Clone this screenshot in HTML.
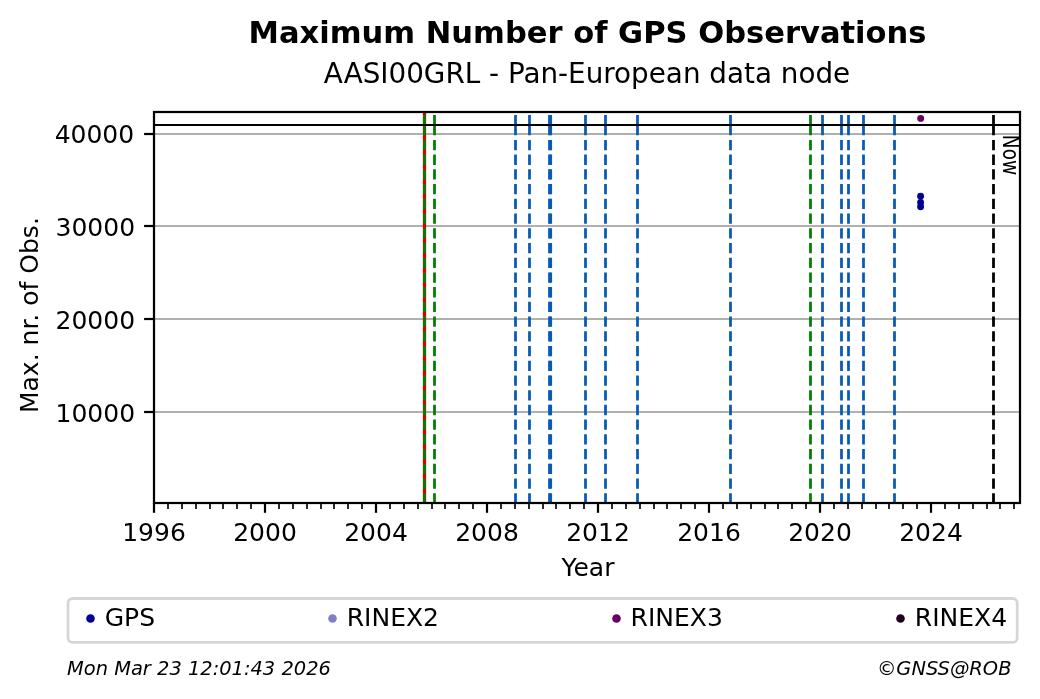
<!DOCTYPE html>
<html lang="en"><head><meta charset="utf-8"><title>Maximum Number of GPS Observations</title>
<style>html,body{margin:0;padding:0;background:#fff}body{width:1040px;height:699px;overflow:hidden}svg{display:block}text{font-family:"DejaVu Sans", "Liberation Sans", sans-serif;fill:#000}</style>
</head><body>
<svg width="1040" height="699" viewBox="0 0 1040 699">
<rect x="0" y="0" width="1040" height="699" fill="#ffffff"/>
<g id="grid" stroke="#b0b0b0" stroke-width="2.22">
<line x1="154" y1="134" x2="1020" y2="134"/>
<line x1="154" y1="226" x2="1020" y2="226"/>
<line x1="154" y1="319" x2="1020" y2="319"/>
<line x1="154" y1="412" x2="1020" y2="412"/>
</g>
<line x1="424.5" y1="112" x2="424.5" y2="503" stroke="#da0000" stroke-width="3.3"/>
<path d="M424.50 115.00V135.30 M424.50 139.90V150.18 M424.50 154.62V164.90 M424.50 169.34V179.62 M424.50 184.06V194.34 M424.50 198.78V209.06 M424.50 213.50V223.78 M424.50 228.22V238.50 M424.50 242.94V253.22 M424.50 257.66V267.94 M424.50 272.38V282.66 M424.50 287.10V297.38 M424.50 301.82V312.10 M424.50 316.54V326.82 M424.50 331.26V341.54 M424.50 345.98V356.26 M424.50 360.70V370.98 M424.50 375.42V385.70 M424.50 390.14V400.42 M424.50 404.86V415.14 M424.50 419.58V429.86 M424.50 434.30V444.58 M424.50 449.02V459.30 M424.50 463.74V474.02 M424.50 478.46V488.74 M424.50 493.18V503.00" stroke="#008000" stroke-width="2.78" fill="none"/>
<path d="M434.50 115.00V135.30 M434.50 139.90V150.18 M434.50 154.62V164.90 M434.50 169.34V179.62 M434.50 184.06V194.34 M434.50 198.78V209.06 M434.50 213.50V223.78 M434.50 228.22V238.50 M434.50 242.94V253.22 M434.50 257.66V267.94 M434.50 272.38V282.66 M434.50 287.10V297.38 M434.50 301.82V312.10 M434.50 316.54V326.82 M434.50 331.26V341.54 M434.50 345.98V356.26 M434.50 360.70V370.98 M434.50 375.42V385.70 M434.50 390.14V400.42 M434.50 404.86V415.14 M434.50 419.58V429.86 M434.50 434.30V444.58 M434.50 449.02V459.30 M434.50 463.74V474.02 M434.50 478.46V488.74 M434.50 493.18V503.00" stroke="#008000" stroke-width="2.78" fill="none"/>
<path d="M515.50 115.00V135.30 M515.50 139.90V150.18 M515.50 154.62V164.90 M515.50 169.34V179.62 M515.50 184.06V194.34 M515.50 198.78V209.06 M515.50 213.50V223.78 M515.50 228.22V238.50 M515.50 242.94V253.22 M515.50 257.66V267.94 M515.50 272.38V282.66 M515.50 287.10V297.38 M515.50 301.82V312.10 M515.50 316.54V326.82 M515.50 331.26V341.54 M515.50 345.98V356.26 M515.50 360.70V370.98 M515.50 375.42V385.70 M515.50 390.14V400.42 M515.50 404.86V415.14 M515.50 419.58V429.86 M515.50 434.30V444.58 M515.50 449.02V459.30 M515.50 463.74V474.02 M515.50 478.46V488.74 M515.50 493.18V503.00" stroke="#075bb6" stroke-width="2.78" fill="none"/>
<path d="M529.50 115.00V135.30 M529.50 139.90V150.18 M529.50 154.62V164.90 M529.50 169.34V179.62 M529.50 184.06V194.34 M529.50 198.78V209.06 M529.50 213.50V223.78 M529.50 228.22V238.50 M529.50 242.94V253.22 M529.50 257.66V267.94 M529.50 272.38V282.66 M529.50 287.10V297.38 M529.50 301.82V312.10 M529.50 316.54V326.82 M529.50 331.26V341.54 M529.50 345.98V356.26 M529.50 360.70V370.98 M529.50 375.42V385.70 M529.50 390.14V400.42 M529.50 404.86V415.14 M529.50 419.58V429.86 M529.50 434.30V444.58 M529.50 449.02V459.30 M529.50 463.74V474.02 M529.50 478.46V488.74 M529.50 493.18V503.00" stroke="#075bb6" stroke-width="2.78" fill="none"/>
<path d="M549.50 115.00V135.30 M549.50 139.90V150.18 M549.50 154.62V164.90 M549.50 169.34V179.62 M549.50 184.06V194.34 M549.50 198.78V209.06 M549.50 213.50V223.78 M549.50 228.22V238.50 M549.50 242.94V253.22 M549.50 257.66V267.94 M549.50 272.38V282.66 M549.50 287.10V297.38 M549.50 301.82V312.10 M549.50 316.54V326.82 M549.50 331.26V341.54 M549.50 345.98V356.26 M549.50 360.70V370.98 M549.50 375.42V385.70 M549.50 390.14V400.42 M549.50 404.86V415.14 M549.50 419.58V429.86 M549.50 434.30V444.58 M549.50 449.02V459.30 M549.50 463.74V474.02 M549.50 478.46V488.74 M549.50 493.18V503.00" stroke="#075bb6" stroke-width="2.78" fill="none"/>
<path d="M550.70 115.00V135.30 M550.70 139.90V150.18 M550.70 154.62V164.90 M550.70 169.34V179.62 M550.70 184.06V194.34 M550.70 198.78V209.06 M550.70 213.50V223.78 M550.70 228.22V238.50 M550.70 242.94V253.22 M550.70 257.66V267.94 M550.70 272.38V282.66 M550.70 287.10V297.38 M550.70 301.82V312.10 M550.70 316.54V326.82 M550.70 331.26V341.54 M550.70 345.98V356.26 M550.70 360.70V370.98 M550.70 375.42V385.70 M550.70 390.14V400.42 M550.70 404.86V415.14 M550.70 419.58V429.86 M550.70 434.30V444.58 M550.70 449.02V459.30 M550.70 463.74V474.02 M550.70 478.46V488.74 M550.70 493.18V503.00" stroke="#075bb6" stroke-width="2.78" fill="none"/>
<path d="M585.50 115.00V135.30 M585.50 139.90V150.18 M585.50 154.62V164.90 M585.50 169.34V179.62 M585.50 184.06V194.34 M585.50 198.78V209.06 M585.50 213.50V223.78 M585.50 228.22V238.50 M585.50 242.94V253.22 M585.50 257.66V267.94 M585.50 272.38V282.66 M585.50 287.10V297.38 M585.50 301.82V312.10 M585.50 316.54V326.82 M585.50 331.26V341.54 M585.50 345.98V356.26 M585.50 360.70V370.98 M585.50 375.42V385.70 M585.50 390.14V400.42 M585.50 404.86V415.14 M585.50 419.58V429.86 M585.50 434.30V444.58 M585.50 449.02V459.30 M585.50 463.74V474.02 M585.50 478.46V488.74 M585.50 493.18V503.00" stroke="#075bb6" stroke-width="2.78" fill="none"/>
<path d="M605.50 115.00V135.30 M605.50 139.90V150.18 M605.50 154.62V164.90 M605.50 169.34V179.62 M605.50 184.06V194.34 M605.50 198.78V209.06 M605.50 213.50V223.78 M605.50 228.22V238.50 M605.50 242.94V253.22 M605.50 257.66V267.94 M605.50 272.38V282.66 M605.50 287.10V297.38 M605.50 301.82V312.10 M605.50 316.54V326.82 M605.50 331.26V341.54 M605.50 345.98V356.26 M605.50 360.70V370.98 M605.50 375.42V385.70 M605.50 390.14V400.42 M605.50 404.86V415.14 M605.50 419.58V429.86 M605.50 434.30V444.58 M605.50 449.02V459.30 M605.50 463.74V474.02 M605.50 478.46V488.74 M605.50 493.18V503.00" stroke="#075bb6" stroke-width="2.78" fill="none"/>
<path d="M637.50 115.00V135.30 M637.50 139.90V150.18 M637.50 154.62V164.90 M637.50 169.34V179.62 M637.50 184.06V194.34 M637.50 198.78V209.06 M637.50 213.50V223.78 M637.50 228.22V238.50 M637.50 242.94V253.22 M637.50 257.66V267.94 M637.50 272.38V282.66 M637.50 287.10V297.38 M637.50 301.82V312.10 M637.50 316.54V326.82 M637.50 331.26V341.54 M637.50 345.98V356.26 M637.50 360.70V370.98 M637.50 375.42V385.70 M637.50 390.14V400.42 M637.50 404.86V415.14 M637.50 419.58V429.86 M637.50 434.30V444.58 M637.50 449.02V459.30 M637.50 463.74V474.02 M637.50 478.46V488.74 M637.50 493.18V503.00" stroke="#075bb6" stroke-width="2.78" fill="none"/>
<path d="M730.50 115.00V135.30 M730.50 139.90V150.18 M730.50 154.62V164.90 M730.50 169.34V179.62 M730.50 184.06V194.34 M730.50 198.78V209.06 M730.50 213.50V223.78 M730.50 228.22V238.50 M730.50 242.94V253.22 M730.50 257.66V267.94 M730.50 272.38V282.66 M730.50 287.10V297.38 M730.50 301.82V312.10 M730.50 316.54V326.82 M730.50 331.26V341.54 M730.50 345.98V356.26 M730.50 360.70V370.98 M730.50 375.42V385.70 M730.50 390.14V400.42 M730.50 404.86V415.14 M730.50 419.58V429.86 M730.50 434.30V444.58 M730.50 449.02V459.30 M730.50 463.74V474.02 M730.50 478.46V488.74 M730.50 493.18V503.00" stroke="#075bb6" stroke-width="2.78" fill="none"/>
<path d="M810.50 115.00V135.30 M810.50 139.90V150.18 M810.50 154.62V164.90 M810.50 169.34V179.62 M810.50 184.06V194.34 M810.50 198.78V209.06 M810.50 213.50V223.78 M810.50 228.22V238.50 M810.50 242.94V253.22 M810.50 257.66V267.94 M810.50 272.38V282.66 M810.50 287.10V297.38 M810.50 301.82V312.10 M810.50 316.54V326.82 M810.50 331.26V341.54 M810.50 345.98V356.26 M810.50 360.70V370.98 M810.50 375.42V385.70 M810.50 390.14V400.42 M810.50 404.86V415.14 M810.50 419.58V429.86 M810.50 434.30V444.58 M810.50 449.02V459.30 M810.50 463.74V474.02 M810.50 478.46V488.74 M810.50 493.18V503.00" stroke="#008000" stroke-width="2.78" fill="none"/>
<path d="M822.50 115.00V135.30 M822.50 139.90V150.18 M822.50 154.62V164.90 M822.50 169.34V179.62 M822.50 184.06V194.34 M822.50 198.78V209.06 M822.50 213.50V223.78 M822.50 228.22V238.50 M822.50 242.94V253.22 M822.50 257.66V267.94 M822.50 272.38V282.66 M822.50 287.10V297.38 M822.50 301.82V312.10 M822.50 316.54V326.82 M822.50 331.26V341.54 M822.50 345.98V356.26 M822.50 360.70V370.98 M822.50 375.42V385.70 M822.50 390.14V400.42 M822.50 404.86V415.14 M822.50 419.58V429.86 M822.50 434.30V444.58 M822.50 449.02V459.30 M822.50 463.74V474.02 M822.50 478.46V488.74 M822.50 493.18V503.00" stroke="#075bb6" stroke-width="2.78" fill="none"/>
<path d="M841.50 115.00V135.30 M841.50 139.90V150.18 M841.50 154.62V164.90 M841.50 169.34V179.62 M841.50 184.06V194.34 M841.50 198.78V209.06 M841.50 213.50V223.78 M841.50 228.22V238.50 M841.50 242.94V253.22 M841.50 257.66V267.94 M841.50 272.38V282.66 M841.50 287.10V297.38 M841.50 301.82V312.10 M841.50 316.54V326.82 M841.50 331.26V341.54 M841.50 345.98V356.26 M841.50 360.70V370.98 M841.50 375.42V385.70 M841.50 390.14V400.42 M841.50 404.86V415.14 M841.50 419.58V429.86 M841.50 434.30V444.58 M841.50 449.02V459.30 M841.50 463.74V474.02 M841.50 478.46V488.74 M841.50 493.18V503.00" stroke="#075bb6" stroke-width="2.78" fill="none"/>
<path d="M848.50 115.00V135.30 M848.50 139.90V150.18 M848.50 154.62V164.90 M848.50 169.34V179.62 M848.50 184.06V194.34 M848.50 198.78V209.06 M848.50 213.50V223.78 M848.50 228.22V238.50 M848.50 242.94V253.22 M848.50 257.66V267.94 M848.50 272.38V282.66 M848.50 287.10V297.38 M848.50 301.82V312.10 M848.50 316.54V326.82 M848.50 331.26V341.54 M848.50 345.98V356.26 M848.50 360.70V370.98 M848.50 375.42V385.70 M848.50 390.14V400.42 M848.50 404.86V415.14 M848.50 419.58V429.86 M848.50 434.30V444.58 M848.50 449.02V459.30 M848.50 463.74V474.02 M848.50 478.46V488.74 M848.50 493.18V503.00" stroke="#075bb6" stroke-width="2.78" fill="none"/>
<path d="M863.50 115.00V135.30 M863.50 139.90V150.18 M863.50 154.62V164.90 M863.50 169.34V179.62 M863.50 184.06V194.34 M863.50 198.78V209.06 M863.50 213.50V223.78 M863.50 228.22V238.50 M863.50 242.94V253.22 M863.50 257.66V267.94 M863.50 272.38V282.66 M863.50 287.10V297.38 M863.50 301.82V312.10 M863.50 316.54V326.82 M863.50 331.26V341.54 M863.50 345.98V356.26 M863.50 360.70V370.98 M863.50 375.42V385.70 M863.50 390.14V400.42 M863.50 404.86V415.14 M863.50 419.58V429.86 M863.50 434.30V444.58 M863.50 449.02V459.30 M863.50 463.74V474.02 M863.50 478.46V488.74 M863.50 493.18V503.00" stroke="#075bb6" stroke-width="2.78" fill="none"/>
<path d="M894.50 115.00V135.30 M894.50 139.90V150.18 M894.50 154.62V164.90 M894.50 169.34V179.62 M894.50 184.06V194.34 M894.50 198.78V209.06 M894.50 213.50V223.78 M894.50 228.22V238.50 M894.50 242.94V253.22 M894.50 257.66V267.94 M894.50 272.38V282.66 M894.50 287.10V297.38 M894.50 301.82V312.10 M894.50 316.54V326.82 M894.50 331.26V341.54 M894.50 345.98V356.26 M894.50 360.70V370.98 M894.50 375.42V385.70 M894.50 390.14V400.42 M894.50 404.86V415.14 M894.50 419.58V429.86 M894.50 434.30V444.58 M894.50 449.02V459.30 M894.50 463.74V474.02 M894.50 478.46V488.74 M894.50 493.18V503.00" stroke="#075bb6" stroke-width="2.78" fill="none"/>
<path d="M993.50 115.00V135.30 M993.50 139.90V150.18 M993.50 154.62V164.90 M993.50 169.34V179.62 M993.50 184.06V194.34 M993.50 198.78V209.06 M993.50 213.50V223.78 M993.50 228.22V238.50 M993.50 242.94V253.22 M993.50 257.66V267.94 M993.50 272.38V282.66 M993.50 287.10V297.38 M993.50 301.82V312.10 M993.50 316.54V326.82 M993.50 331.26V341.54 M993.50 345.98V356.26 M993.50 360.70V370.98 M993.50 375.42V385.70 M993.50 390.14V400.42 M993.50 404.86V415.14 M993.50 419.58V429.86 M993.50 434.30V444.58 M993.50 449.02V459.30 M993.50 463.74V474.02 M993.50 478.46V488.74 M993.50 493.18V503.00" stroke="#000000" stroke-width="2.78" fill="none"/>
<line x1="154" y1="125" x2="1021" y2="125" stroke="#000" stroke-width="2.22"/>
<circle cx="920.7" cy="118.4" r="3.45" fill="#660066"/>
<circle cx="920.6" cy="196.2" r="3.45" fill="#000094"/>
<circle cx="920.6" cy="202.4" r="3.45" fill="#000094"/>
<circle cx="920.6" cy="206.7" r="3.45" fill="#000094"/>
<rect x="154" y="112" width="866" height="391" fill="none" stroke="#000" stroke-width="2.22"/>
<g id="yticks" stroke="#000" stroke-width="2.22">
<line x1="144.1" y1="134" x2="154" y2="134"/>
<line x1="144.1" y1="226" x2="154" y2="226"/>
<line x1="144.1" y1="319" x2="154" y2="319"/>
<line x1="144.1" y1="412" x2="154" y2="412"/>
</g>
<g id="xmajor" stroke="#000" stroke-width="2.22">
<line x1="154" y1="503" x2="154" y2="512.8"/>
<line x1="265" y1="503" x2="265" y2="512.8"/>
<line x1="376" y1="503" x2="376" y2="512.8"/>
<line x1="487" y1="503" x2="487" y2="512.8"/>
<line x1="598" y1="503" x2="598" y2="512.8"/>
<line x1="709" y1="503" x2="709" y2="512.8"/>
<line x1="820" y1="503" x2="820" y2="512.8"/>
<line x1="931" y1="503" x2="931" y2="512.8"/>
</g>
<g id="xminor" stroke="#000" stroke-width="1.67">
<line x1="168" y1="503" x2="168" y2="508.9"/>
<line x1="182" y1="503" x2="182" y2="508.9"/>
<line x1="196" y1="503" x2="196" y2="508.9"/>
<line x1="210" y1="503" x2="210" y2="508.9"/>
<line x1="223" y1="503" x2="223" y2="508.9"/>
<line x1="237" y1="503" x2="237" y2="508.9"/>
<line x1="251" y1="503" x2="251" y2="508.9"/>
<line x1="279" y1="503" x2="279" y2="508.9"/>
<line x1="293" y1="503" x2="293" y2="508.9"/>
<line x1="307" y1="503" x2="307" y2="508.9"/>
<line x1="321" y1="503" x2="321" y2="508.9"/>
<line x1="334" y1="503" x2="334" y2="508.9"/>
<line x1="348" y1="503" x2="348" y2="508.9"/>
<line x1="362" y1="503" x2="362" y2="508.9"/>
<line x1="390" y1="503" x2="390" y2="508.9"/>
<line x1="404" y1="503" x2="404" y2="508.9"/>
<line x1="418" y1="503" x2="418" y2="508.9"/>
<line x1="432" y1="503" x2="432" y2="508.9"/>
<line x1="445" y1="503" x2="445" y2="508.9"/>
<line x1="459" y1="503" x2="459" y2="508.9"/>
<line x1="473" y1="503" x2="473" y2="508.9"/>
<line x1="501" y1="503" x2="501" y2="508.9"/>
<line x1="515" y1="503" x2="515" y2="508.9"/>
<line x1="529" y1="503" x2="529" y2="508.9"/>
<line x1="543" y1="503" x2="543" y2="508.9"/>
<line x1="556" y1="503" x2="556" y2="508.9"/>
<line x1="570" y1="503" x2="570" y2="508.9"/>
<line x1="584" y1="503" x2="584" y2="508.9"/>
<line x1="612" y1="503" x2="612" y2="508.9"/>
<line x1="626" y1="503" x2="626" y2="508.9"/>
<line x1="640" y1="503" x2="640" y2="508.9"/>
<line x1="654" y1="503" x2="654" y2="508.9"/>
<line x1="667" y1="503" x2="667" y2="508.9"/>
<line x1="681" y1="503" x2="681" y2="508.9"/>
<line x1="695" y1="503" x2="695" y2="508.9"/>
<line x1="723" y1="503" x2="723" y2="508.9"/>
<line x1="737" y1="503" x2="737" y2="508.9"/>
<line x1="751" y1="503" x2="751" y2="508.9"/>
<line x1="765" y1="503" x2="765" y2="508.9"/>
<line x1="778" y1="503" x2="778" y2="508.9"/>
<line x1="792" y1="503" x2="792" y2="508.9"/>
<line x1="806" y1="503" x2="806" y2="508.9"/>
<line x1="834" y1="503" x2="834" y2="508.9"/>
<line x1="848" y1="503" x2="848" y2="508.9"/>
<line x1="862" y1="503" x2="862" y2="508.9"/>
<line x1="876" y1="503" x2="876" y2="508.9"/>
<line x1="889" y1="503" x2="889" y2="508.9"/>
<line x1="903" y1="503" x2="903" y2="508.9"/>
<line x1="917" y1="503" x2="917" y2="508.9"/>
<line x1="945" y1="503" x2="945" y2="508.9"/>
<line x1="959" y1="503" x2="959" y2="508.9"/>
<line x1="973" y1="503" x2="973" y2="508.9"/>
<line x1="987" y1="503" x2="987" y2="508.9"/>
<line x1="1000" y1="503" x2="1000" y2="508.9"/>
<line x1="1014" y1="503" x2="1014" y2="508.9"/>
</g>
<g id="yticklabels" font-size="25" text-anchor="end">
<text x="134.2" y="143.4">40000</text>
<text x="135.1" y="236.3">30000</text>
<text x="135.1" y="329.3">20000</text>
<text x="135.1" y="422.3">10000</text>
</g>
<g id="xticklabels" font-size="25" text-anchor="middle">
<text x="154" y="541.4">1996</text>
<text x="265" y="541.4">2000</text>
<text x="376" y="541.4">2004</text>
<text x="487" y="541.4">2008</text>
<text x="598" y="541.4">2012</text>
<text x="709" y="541.4">2016</text>
<text x="820" y="541.4">2020</text>
<text x="931" y="541.4">2024</text>
</g>
<text x="588" y="576.3" font-size="25" text-anchor="middle">Year</text>
<text transform="translate(37.7,315.1) rotate(-90)" font-size="25" text-anchor="middle">Max. nr. of Obs.</text>
<text transform="translate(1003,134.8) rotate(90) scale(0.835,1)" font-size="22.2">Now</text>
<text x="587.5" y="43" font-size="30.56" font-weight="bold" text-anchor="middle">Maximum Number of GPS Observations</text>
<text x="587" y="83.3" font-size="27.8" text-anchor="middle">AASI00GRL - Pan-European data node</text>
<rect x="68" y="598.5" width="949.2" height="43.9" rx="4.5" ry="4.5" fill="#fff" stroke="#d6d6d6" stroke-width="2.78"/>
<circle cx="90.5" cy="618.5" r="4.3" fill="#000094"/>
<text x="104.7" y="625.6" font-size="25">GPS</text>
<circle cx="332.5" cy="618.5" r="4.3" fill="#807fc2"/>
<text x="346.7" y="625.6" font-size="25">RINEX2</text>
<circle cx="616.5" cy="618.5" r="4.3" fill="#660066"/>
<text x="630.6" y="625.6" font-size="25">RINEX3</text>
<circle cx="900.5" cy="618.5" r="4.3" fill="#200020"/>
<text x="914.8" y="625.6" font-size="25">RINEX4</text>
<text x="67" y="674.6" font-size="19.44" font-style="italic">Mon Mar 23 12:01:43 2026</text>
<text x="1011.5" y="674.6" font-size="19.44" font-style="italic" text-anchor="end">©GNSS@ROB</text>
</svg>
</body></html>
